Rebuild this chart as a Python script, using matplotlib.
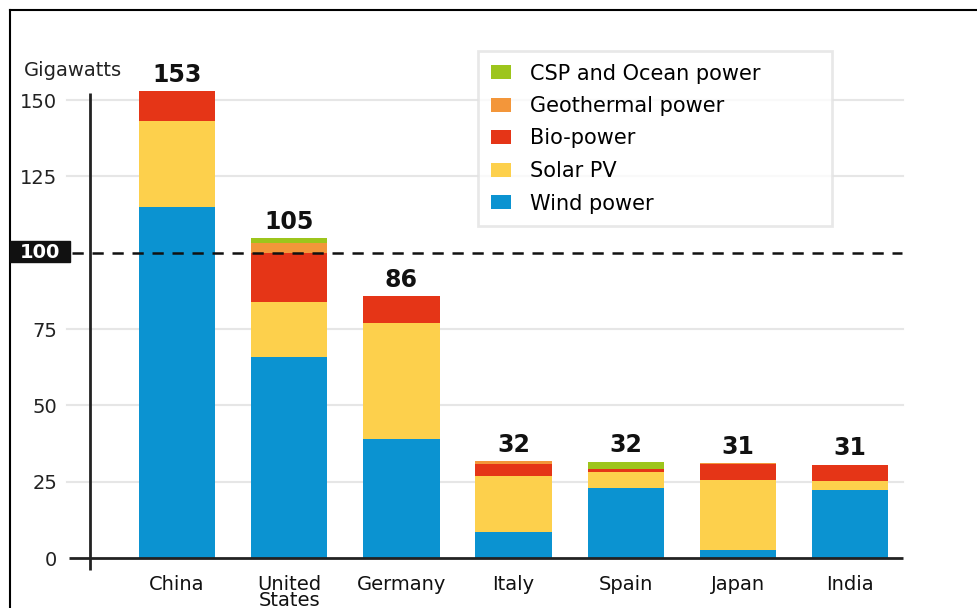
import numpy as np
import matplotlib.pyplot as plt
from matplotlib.patches import Patch, Rectangle
from matplotlib.lines import Line2D

# --- Data (gigawatts of installed capacity) ---
countries = ["China", "United\nStates", "Germany", "Italy", "Spain", "Japan", "India"]
wind = [115.0, 65.7, 39.0, 8.6, 23.0, 2.7, 22.2]
solar = [28.0, 18.2, 38.0, 18.4, 5.2, 22.9, 2.9]
bio = [10.0, 15.9, 8.7, 3.9, 1.0, 5.1, 5.3]
geothermal = [0.0, 3.5, 0.0, 0.9, 0.0, 0.3, 0.0]
csp_ocean = [0.0, 1.6, 0.0, 0.0, 2.4, 0.0, 0.2]

series = [
    ("Wind power", wind, "#0b93d1"),
    ("Solar PV", solar, "#fdd04c"),
    ("Bio-power", bio, "#e53517"),
    ("Geothermal power", geothermal, "#f3963a"),
    ("CSP and Ocean power", csp_ocean, "#9dc51c"),
]
yticks = [0, 25, 50, 75, 125, 150]
threshold = 100

plt.rcParams["font.family"] = ["DejaVu Sans"]

W, H = 977, 608
fig = plt.figure(figsize=(W / 100, H / 100), dpi=100)

# axes frame in pixels
ax_left, ax_right = 64, 910
y0_px, px_per_unit = 558, 3.053
ax_top = 40

ax = fig.add_axes([ax_left / W, (H - y0_px) / H, (ax_right - ax_left) / W,
                   (y0_px - ax_top) / H])
ax.set_xlim((ax_left - 177) / 112.2, (ax_right - 177) / 112.2)
ax.set_ylim(0, (y0_px - ax_top) / px_per_unit)
for s in ax.spines.values():
    s.set_visible(False)

def dx(px):
    # pixel column -> x data coordinate
    return (px - 177) / 112.2

x = np.arange(len(countries))
bottom = np.zeros(len(countries))
for name, vals, color in series:
    vals = np.array(vals)
    ax.bar(x, vals, width=0.68, bottom=bottom, color=color, zorder=3,
           label=name, clip_on=False)
    bottom += vals

# totals above bars
for xi, tot in zip(x, bottom):
    ax.annotate(f"{round(tot)}", (xi, tot), xytext=(0, 3),
                textcoords="offset points", ha="center", va="bottom",
                fontsize=17, fontweight="bold", color="#111111")

# gridlines, baseline, left axis line, 100 GW threshold
for yv in yticks[1:]:
    ax.plot([dx(67), dx(903)], [yv, yv], color="#e6e6e6", lw=1.5, zorder=1)
ax.plot([dx(69), dx(903)], [0, 0], color="#222222", lw=2, zorder=4,
        clip_on=False, solid_capstyle="butt")
ax.plot([dx(90), dx(90)], [-12 / px_per_unit, 152.3], color="#222222",
        lw=2, zorder=4, clip_on=False, solid_capstyle="butt")
ax.plot([dx(72), dx(902)], [threshold, threshold], color="#111111", lw=1.8,
        ls=(0, (4.5, 3.5)), zorder=5)

ax.set_yticks(yticks)
ax.set_yticklabels([str(v) for v in yticks], fontsize=14, color="#222222")
ax.tick_params(axis="y", length=0, pad=5)
ax.set_xticks(x)
ax.set_xticklabels(countries, fontsize=14, color="#111111", linespacing=0.8)
ax.tick_params(axis="x", length=0, pad=12)

# highlighted 100 marker
fig.patches.append(Rectangle((10 / W, (H - 262) / H), 60 / W, 21 / H,
                             transform=fig.transFigure, color="#111111",
                             zorder=5))
fig.text(40 / W, (H - 252) / H, str(threshold), color="white", fontsize=14,
         fontweight="bold", ha="center", va="center", zorder=6)

fig.text(24 / W, (H - 70) / H, "Gigawatts", fontsize=14, color="#222222",
         ha="left", va="center")

# legend, top entry first
handles = [Patch(facecolor=c, edgecolor="none", label=n) for n, _, c in series[::-1]]
leg = ax.legend(handles=handles, loc="upper left",
                bbox_to_anchor=(478 / W, (H - 51) / H - 0.01, (832 - 478) / W, 0.01),
                bbox_transform=fig.transFigure, mode="expand",
                fontsize=15, frameon=True, fancybox=False, borderpad=0.6,
                handlelength=1.0, handleheight=0.65, handletextpad=0.9,
                labelspacing=0.6, borderaxespad=0)
leg.get_frame().set_edgecolor("#e3e3e3")
leg.get_frame().set_linewidth(2)
leg.set_zorder(6)

# outer frame (top and left edges)
fig.add_artist(Line2D([10 / W, 10 / W], [0, (H - 10) / H], color="black", lw=1.5,
                      transform=fig.transFigure))
fig.add_artist(Line2D([10 / W, 1], [(H - 10) / H, (H - 10) / H], color="black",
                      lw=1.5, transform=fig.transFigure))

fig.savefig("out.png", dpi=100)
